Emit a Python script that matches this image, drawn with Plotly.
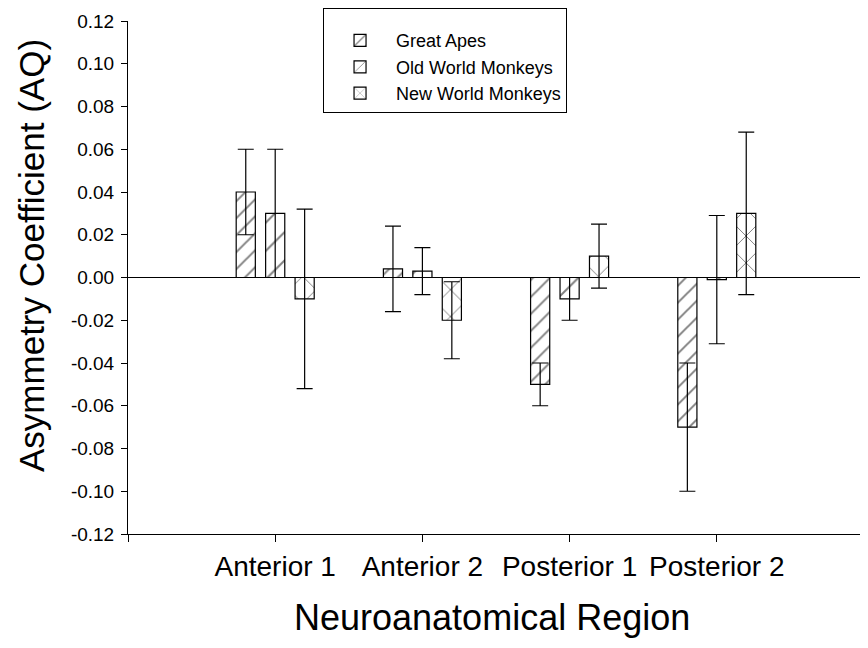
import plotly.graph_objects as go

regions = ["Anterior 1", "Anterior 2", "Posterior 1", "Posterior 2"]
region_pos = [1, 2, 3, 4]

great_apes = [0.040, 0.004, -0.050, -0.070]
great_apes_err = [0.020, 0.020, 0.010, 0.030]
old_world = [0.030, 0.003, -0.010, -0.001]
old_world_err = [0.030, 0.011, 0.010, 0.030]
new_world = [-0.010, -0.020, 0.010, 0.030]
new_world_err = [0.042, 0.018, 0.015, 0.038]

y_tick_vals = [0.12, 0.10, 0.08, 0.06, 0.04, 0.02, 0.00, -0.02, -0.04, -0.06, -0.08, -0.10, -0.12]
y_tick_text = ["0.12", "0.10", "0.08", "0.06", "0.04", "0.02", "0.00", "-0.02", "-0.04", "-0.06", "-0.08", "-0.10", "-0.12"]

FONT = "Arial, Liberation Sans, sans-serif"

series = [
    ("Great Apes", great_apes, great_apes_err, "/", 12, 0.16),
    ("Old World Monkeys", old_world, old_world_err, "/", 20, 0.1),
    ("New World Monkeys", new_world, new_world_err, "x", 19, 0.1),
]

fig = go.Figure()
for name, vals, errs, shape, size, sol in series:
    fig.add_trace(go.Bar(
        name=name, x=region_pos, y=vals,
        marker=dict(color="white", line=dict(color="black", width=1.2),
                    pattern=dict(shape=shape, fgcolor="black", bgcolor="white",
                                 size=size, solidity=sol)),
        error_y=dict(type="data", array=errs, visible=True, color="black",
                     thickness=1.2, width=8),
    ))

fig.update_layout(
    width=860, height=640,
    margin=dict(l=120, r=4, t=13, b=114, autoexpand=False),
    paper_bgcolor="white", plot_bgcolor="white",
    barmode="group", bargap=0.4, bargroupgap=0.35,
    font=dict(family=FONT, color="black"),
    showlegend=True,
    legend=dict(x=0.265, y=1.025, xanchor="left", yanchor="top",
                bordercolor="black", borderwidth=1, bgcolor="white",
                font=dict(size=18, family=FONT), itemwidth=62,
                title=dict(text=" ", font=dict(size=10)),
                traceorder="normal"),
    xaxis=dict(range=[0, 5], tickvals=[0] + region_pos + [5],
               ticktext=[""] + regions + [""],
               showline=True, linecolor="black", linewidth=1,
               ticks="outside", ticklen=7, tickcolor="black",
               tickfont=dict(size=28, family=FONT), showgrid=False, zeroline=False),
    yaxis=dict(range=[-0.12, 0.12], tickvals=y_tick_vals, ticktext=y_tick_text,
               showline=True, linecolor="black", linewidth=1,
               ticks="outside", ticklen=6, tickcolor="black", ticklabelstandoff=3,
               tickfont=dict(size=19, family=FONT), showgrid=False,
               zeroline=True, zerolinecolor="black", zerolinewidth=1),
    annotations=[
        dict(text="Asymmetry Coefficient (AQ)", xref="paper", yref="paper",
             x=-0.1304, y=0.542, textangle=-90, showarrow=False,
             font=dict(size=35, family=FONT), xanchor="center", yanchor="middle"),
        dict(text="Neuroanatomical Region", xref="paper", yref="paper",
             x=0.4946, y=-0.1637, showarrow=False,
             font=dict(size=36, family=FONT), xanchor="center", yanchor="middle"),
    ],
)

fig.write_html("out.html")
